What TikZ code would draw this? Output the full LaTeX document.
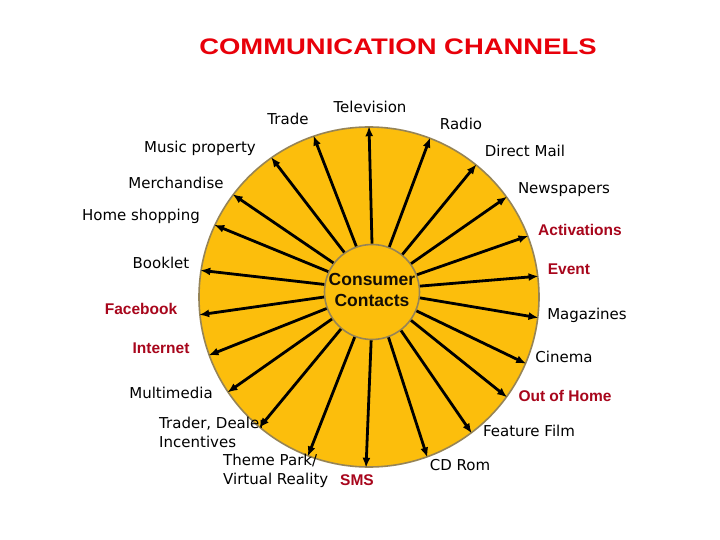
\documentclass[tikz,border=0pt]{standalone}
\usepackage{fontspec}
\setmainfont{DejaVu Sans}
\newfontfamily\arialfont{Liberation Sans}
\usetikzlibrary{arrows.meta}

\definecolor{sunfill}{RGB}{252,190,12}
\definecolor{sunedge}{RGB}{150,132,86}
\definecolor{chanred}{RGB}{168,6,28}
\definecolor{titlered}{RGB}{232,0,10}

\tikzset{
    sun ring/.style={
      circle,
      draw=sunedge,
      fill=sunfill,
      line width=1.6pt,
      inner sep=0pt
    },
    chan arrow/.style={
      draw=black,
      line width=2.8pt,
      -{Latex[length=10pt,width=8pt]}
    },
    chan label/.style={
      font=\fontsize{15}{19}\selectfont,
      inner sep=0pt,
      align=left
    },
    chan hot/.style={
      font=\arialfont\bfseries\fontsize{15.5}{19}\selectfont,
      text=chanred,
      inner sep=0pt
    },
    core label/.style={
      font=\arialfont\bfseries\fontsize{17.5}{21}\selectfont,
      text=black!90!brown,
      align=center,
      inner sep=0pt
    }
  }

\begin{document}
\begin{tikzpicture}[x=1pt,y=-1pt]
      \useasboundingbox[fill=white] (0,0) rectangle (720,540);

      % 見出し
      \node[font=\arialfont\bfseries\fontsize{22.5}{26}\selectfont, text=titlered] (title)
        at (398,47) {\scalebox{1.22}[1]{COMMUNICATION CHANNELS}};

      % 円
      \node[sun ring, minimum size=340pt] (ring) at (369,297) {};
      \node[sun ring, minimum size=95pt] (cc) at (372,292) {};

      % 矢印
      \foreach \a in {90,109.5,125.7,143,155.7,171,186,200,214,230,249,269,
                      290,307,324,337,353,7,21,36,51,69}
        \draw[chan arrow] (cc.\a) -- (ring.\a);

      \node[core label] (core) at (372,290) {Consumer\\Contacts};

      % ラベル
      \node[chan label] (trade) at (288,119) {Trade};
      \node[chan label] (tv) at (370,107) {Television};
      \node[chan label] (radio) at (461,124) {Radio};
      \node[chan label] (mail) at (525,151) {Direct Mail};
      \node[chan label] (news) at (564,190) {Newspapers};
      \node[chan hot] (activ) at (580,230) {Activations};
      \node[chan hot] (event) at (569,269) {Event};
      \node[chan label] (mags) at (587,315) {Magazines};
      \node[chan label] (cinema) at (564,357) {Cinema};
      \node[chan hot] (ooh) at (565,396) {Out of Home};
      \node[chan label] (film) at (529,431) {Feature Film};
      \node[chan label] (cdrom) at (460,465) {CD Rom};
      \node[chan hot] (sms) at (357,480) {SMS};
      \node[chan label, anchor=west] (theme) at (223,471) {Theme Park/\\Virtual Reality};
      \node[chan label, anchor=west] (trader) at (159,432) {Trader, Dealer\\Incentives};
      \node[chan label] (multi) at (171,393) {Multimedia};
      \node[chan hot] (inet) at (161,348) {Internet};
      \node[chan hot] (fb) at (141,309) {Facebook};
      \node[chan label] (booklet) at (161,263) {Booklet};
      \node[chan label] (home) at (141,216) {Home shopping};
      \node[chan label] (merch) at (176,183) {Merchandise};
      \node[chan label] (music) at (200,148) {Music property};
    \end{tikzpicture}
\end{document}
